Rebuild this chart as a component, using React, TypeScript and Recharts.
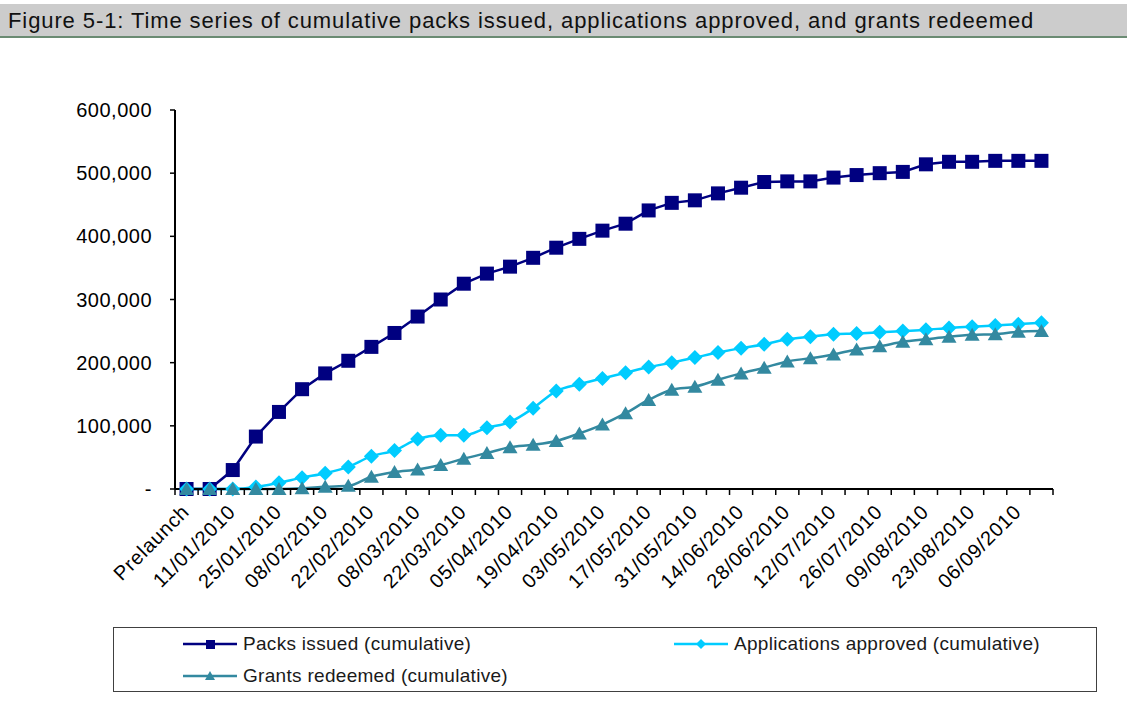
import React from "react";
import { LineChart, Line, XAxis, YAxis } from "recharts";

const categories = [
  "Prelaunch", "04/01/2010", "11/01/2010", "18/01/2010", "25/01/2010", "01/02/2010",
  "08/02/2010", "15/02/2010", "22/02/2010", "01/03/2010", "08/03/2010", "15/03/2010",
  "22/03/2010", "29/03/2010", "05/04/2010", "12/04/2010", "19/04/2010", "26/04/2010",
  "03/05/2010", "10/05/2010", "17/05/2010", "24/05/2010", "31/05/2010", "07/06/2010",
  "14/06/2010", "21/06/2010", "28/06/2010", "05/07/2010", "12/07/2010", "19/07/2010",
  "26/07/2010", "02/08/2010", "09/08/2010", "16/08/2010", "23/08/2010", "30/08/2010",
  "06/09/2010", "13/09/2010",
];

const packsIssued = [
  0, 0, 30000, 83000, 122000, 158000, 183000, 203000, 225000, 247000, 273000, 300000,
  325000, 341000, 352000, 366000, 382000, 396000, 409000, 420000, 441000, 453000, 457000,
  468000, 477000, 486000, 487000, 487000, 493000, 497000, 500000, 502000, 514000, 518000,
  518000, 519500, 519500, 519500,
];

const applicationsApproved = [
  0, 0, 0, 3000, 10000, 18000, 25000, 35000, 52000, 61000, 79000, 85000, 85000, 97000,
  106000, 128000, 155000, 166000, 175000, 184000, 193000, 200000, 208000, 216000, 223000,
  229000, 237000, 241000, 245000, 246000, 248000, 250000, 252000, 255000, 257000, 259000,
  261000, 263000,
];

const grantsRedeemed = [
  0, 0, 0, 0, 0, 1000, 3500, 5000, 19500, 27000, 31000, 38000, 48000, 57000, 66000, 70000,
  76000, 88000, 102000, 120000, 141000, 157000, 162000, 173000, 183000, 192000, 202000,
  207000, 213000, 221000, 226000, 233000, 237000, 241000, 244000, 245000, 249000, 250000,
];

const yTicks = [0, 100000, 200000, 300000, 400000, 500000, 600000];

const data = categories.map((label, i) => ({
  label,
  packs: packsIssued[i],
  apps: applicationsApproved[i],
  grants: grantsRedeemed[i],
}));

const FONT = "'Liberation Sans', Arial, sans-serif";
const NAVY = "#000080";
const CYAN = "#00CCFF";
const TEAL = "#3389A0";

// plot area (page pixels)
const PLOT_LEFT = 175;
const PLOT_RIGHT = 1053;
const PLOT_TOP = 110;
const PLOT_BOTTOM = 489;
const CHART_W = 1127;
const CHART_H = 620;
const BAND = (PLOT_RIGHT - PLOT_LEFT) / categories.length;

const formatY = (v: number) => (v === 0 ? "-" : v.toLocaleString("en-US"));

function XTick(props: any) {
  const { x, y, payload } = props;
  const index = props.index ?? payload.index;
  const last = index === categories.length - 1;
  const tx = x + 4;
  const ty = y + 24;
  return (
    <g>
      <line x1={x - BAND / 2} x2={x - BAND / 2} y1={y} y2={y + 6} stroke="#000" strokeWidth={1.5} />
      {last && (
        <line x1={x + BAND / 2} x2={x + BAND / 2} y1={y} y2={y + 6} stroke="#000" strokeWidth={1.5} />
      )}
      {index % 2 === 0 && (
        <text
          x={tx}
          y={ty}
          transform={`rotate(-45, ${tx}, ${ty})`}
          textAnchor="end"
          fontSize={20}
          fontFamily={FONT}
          letterSpacing={0.8}
          fill="#000"
        >
          {payload.value}
        </text>
      )}
    </g>
  );
}

function SquareDot(props: any) {
  const { cx, cy, index } = props;
  if (cx == null || cy == null) return <g key={`sq-${index}`} />;
  return <rect key={`sq-${index}`} x={cx - 7} y={cy - 7} width={14} height={14} fill={NAVY} />;
}

function DiamondDot(props: any) {
  const { cx, cy, index } = props;
  if (cx == null || cy == null) return <g key={`dm-${index}`} />;
  return (
    <polygon
      key={`dm-${index}`}
      points={`${cx},${cy - 7.5} ${cx + 7.5},${cy} ${cx},${cy + 7.5} ${cx - 7.5},${cy}`}
      fill={CYAN}
    />
  );
}

function TriangleDot(props: any) {
  const { cx, cy, index } = props;
  if (cx == null || cy == null) return <g key={`tr-${index}`} />;
  return (
    <polygon
      key={`tr-${index}`}
      points={`${cx},${cy - 7} ${cx + 7.5},${cy + 6} ${cx - 7.5},${cy + 6}`}
      fill={TEAL}
    />
  );
}

function LegendItem({ color, marker, label }: { color: string; marker: string; label: string }) {
  return (
    <div style={{ display: "flex", alignItems: "center", height: 32 }}>
      <svg width={56} height={16} style={{ marginRight: 4 }}>
        <line x1={0} x2={54} y1={8} y2={8} stroke={color} strokeWidth={2.5} />
        {marker === "square" && <rect x={23} y={4} width={9} height={9} fill={color} />}
        {marker === "diamond" && <polygon points="27,3 32,8 27,13 22,8" fill={color} />}
        {marker === "triangle" && <polygon points="27,3 32,12 22,12" fill={color} />}
      </svg>
      <span style={{ fontSize: 19, letterSpacing: 0.3, color: "#1a1a1a" }}>{label}</span>
    </div>
  );
}

export default function App() {
  return (
    <div
      style={{
        position: "absolute",
        left: 0,
        top: 0,
        width: 1127,
        height: 722,
        background: "#fff",
        fontFamily: FONT,
        overflow: "hidden",
      }}
    >
      <div
        style={{
          position: "absolute",
          left: 0,
          top: 4,
          width: 1127,
          height: 32,
          background: "#cccccc",
          borderBottom: "2px solid #6b8b73",
          fontSize: 22,
          letterSpacing: 0.9,
          lineHeight: "34px",
          paddingLeft: 8,
          boxSizing: "content-box",
          color: "#111",
          whiteSpace: "nowrap",
        }}
      >
        Figure 5-1: Time series of cumulative packs issued, applications approved, and grants redeemed
      </div>

      <div style={{ position: "absolute", left: 0, top: 0 }}>
        <LineChart
          width={CHART_W}
          height={CHART_H}
          data={data}
          margin={{ top: PLOT_TOP, right: CHART_W - PLOT_RIGHT, left: PLOT_LEFT - 100, bottom: 0 }}
        >
          <XAxis
            dataKey="label"
            interval={0}
            height={CHART_H - PLOT_BOTTOM}
            tickLine={false}
            tickSize={0}
            tickMargin={0}
            tick={<XTick />}
            axisLine={{ stroke: "#000", strokeWidth: 2 }}
            padding={{ left: BAND / 2, right: BAND / 2 }}
          />
          <XAxis
            xAxisId="top"
            orientation="top"
            dataKey="label"
            height={0}
            tick={false}
            tickLine={false}
            axisLine={{ stroke: "#000", strokeWidth: 2 }}
            padding={{ left: BAND / 2, right: BAND / 2 }}
          />
          <YAxis
            width={100}
            domain={[0, 600000]}
            ticks={yTicks}
            interval={0}
            tickFormatter={formatY}
            tickSize={5}
            tickMargin={18}
            tickLine={{ stroke: "#000", strokeWidth: 1.5 }}
            axisLine={{ stroke: "#000", strokeWidth: 2 }}
            tick={{ fill: "#000", fontSize: 20, fontFamily: FONT, letterSpacing: 0.5 }}
          />
          <YAxis
            yAxisId="right"
            orientation="right"
            width={0}
            type="number"
            domain={[0, 1]}
            tick={false}
            tickLine={false}
            axisLine={{ stroke: "#000", strokeWidth: 2 }}
          />
          <Line
            type="linear"
            dataKey="packs"
            stroke={NAVY}
            strokeWidth={2.5}
            dot={SquareDot}
            activeDot={false}
            isAnimationActive={false}
          />
          <Line
            type="monotone"
            dataKey="apps"
            stroke={CYAN}
            strokeWidth={2.5}
            dot={DiamondDot}
            activeDot={false}
            isAnimationActive={false}
          />
          <Line
            type="monotone"
            dataKey="grants"
            stroke={TEAL}
            strokeWidth={2.5}
            dot={TriangleDot}
            activeDot={false}
            isAnimationActive={false}
          />
        </LineChart>
      </div>

      <div
        style={{
          position: "absolute",
          left: 113,
          top: 627,
          width: 982,
          height: 63,
          border: "1.5px solid #404040",
          background: "#fff",
        }}
      >
        <div style={{ position: "absolute", left: 69, top: 0 }}>
          <LegendItem color={NAVY} marker="square" label="Packs issued (cumulative)" />
        </div>
        <div style={{ position: "absolute", left: 560, top: 0 }}>
          <LegendItem color={CYAN} marker="diamond" label="Applications approved (cumulative)" />
        </div>
        <div style={{ position: "absolute", left: 69, top: 32 }}>
          <LegendItem color={TEAL} marker="triangle" label="Grants redeemed (cumulative)" />
        </div>
      </div>
    </div>
  );
}
